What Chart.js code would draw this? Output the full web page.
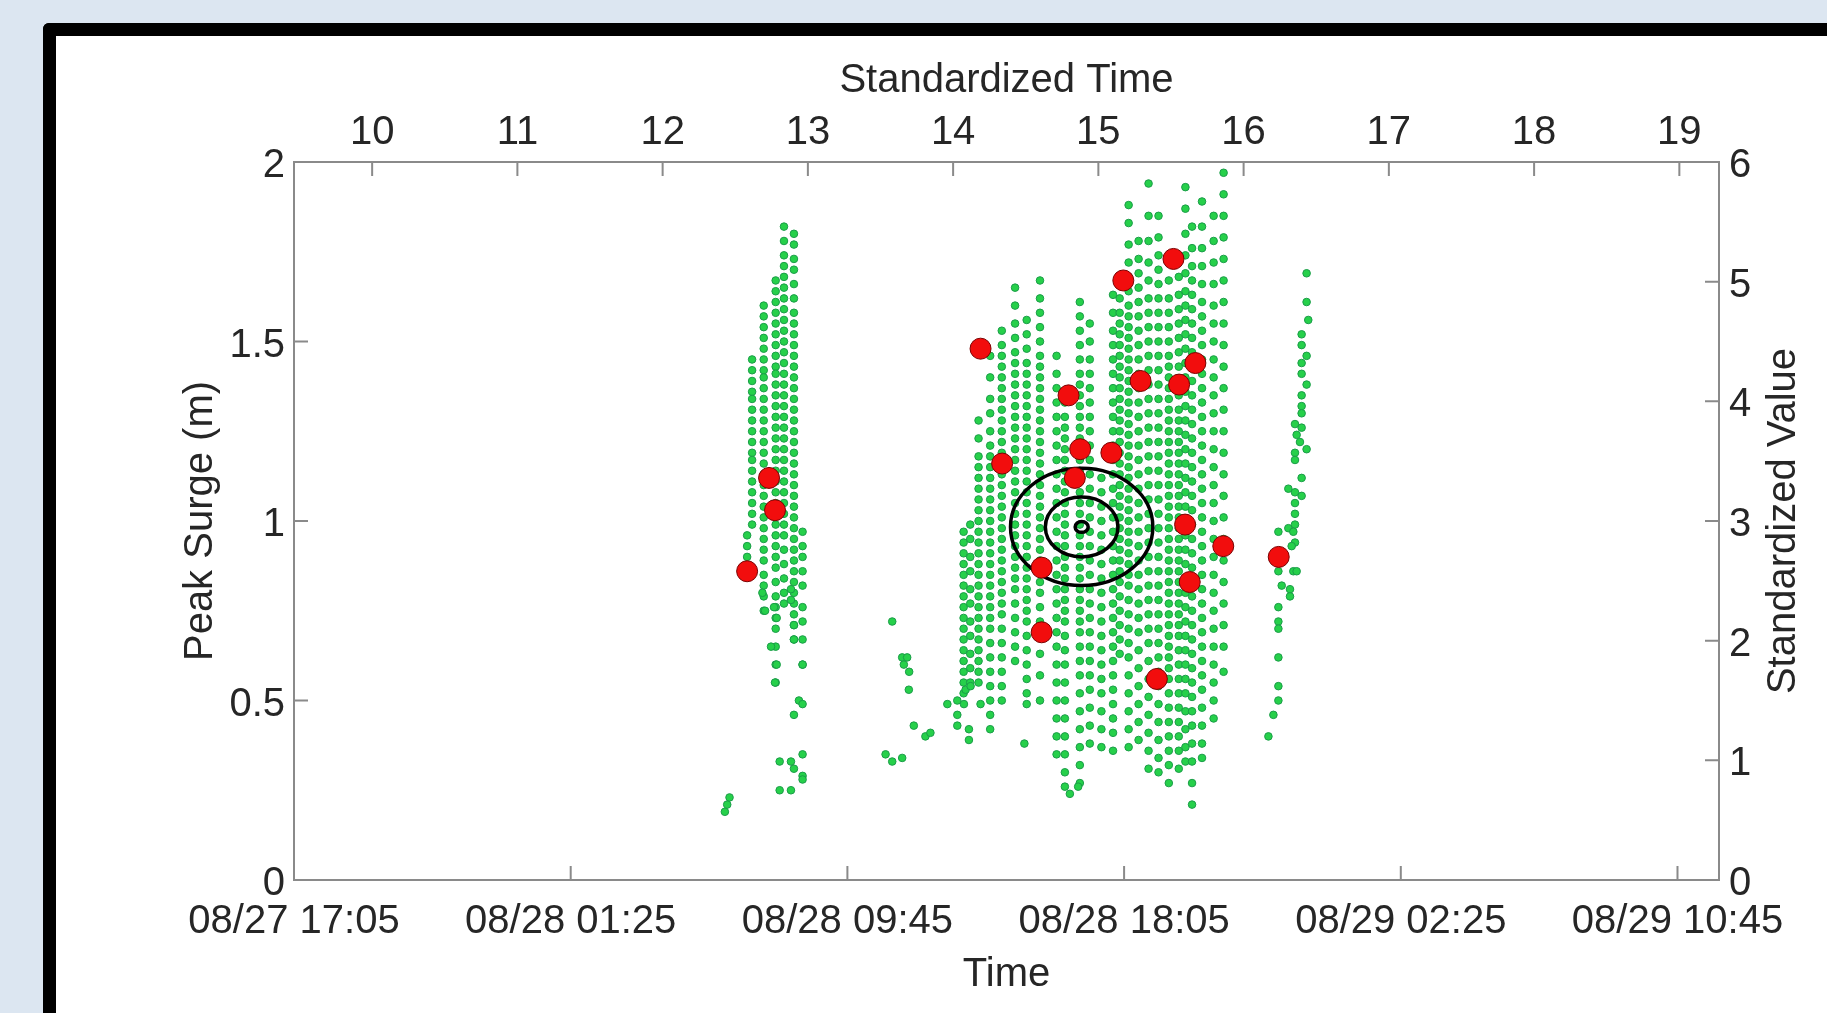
<!DOCTYPE html>
<html>
<head>
<meta charset="utf-8">
<title>Peak surge vs time</title>
<script src="https://cdn.jsdelivr.net/npm/chart.js@4.4.0/dist/chart.umd.min.js"></script>
<style>
  html, body { margin: 0; padding: 0; width: 1827px; height: 1013px; overflow: hidden; background: #dce6f1; }
  #frame { position: absolute; left: 43px; top: 23px; width: 1840px; height: 1050px; background: #fff;
           border-left: 13px solid #000; border-top: 13px solid #000; border-top-left-radius: 6px; }
  #chart { position: absolute; left: 0; top: 0; }
</style>
</head>
<body>
<div id="frame"></div>
<canvas id="chart" width="1827" height="1013"></canvas>
<script>
// x values are hours after 08/27 00:00, surges in metres

// bottom axis (Time)
const timeTickHours = [17.0833, 25.4167, 33.75, 42.0833, 50.4167, 58.75];
const timeTickLabels = ['08/27 17:05', '08/28 01:25', '08/28 09:45', '08/28 18:05', '08/29 02:25', '08/29 10:45'];
// top axis (Standardized Time)
const stdTimeTicks = [10, 11, 12, 13, 14, 15, 16, 17, 18, 19];
// left / right axes
const surgeTicks = [0, 0.5, 1, 1.5, 2];
const stdValueTicks = [0, 1, 2, 3, 4, 5, 6];

// ensemble members, grouped by output time: [hour, [surges]]
const leftColumns = [
  [30.73, [0.96, 0.93, 0.90, 0.87]],
  [30.88, [1.45, 1.42, 1.39, 1.36, 1.34, 1.31, 1.28, 1.25, 1.22, 1.19, 1.17, 1.14, 1.11, 1.08, 1.05, 1.02, 0.99]],
  [31.23, [1.60, 1.57, 1.54, 1.51, 1.48, 1.45, 1.42, 1.40, 1.37, 1.34, 1.31, 1.28, 1.25, 1.22, 1.19, 1.16, 1.13, 1.10, 1.07, 1.04, 1.01, 0.98, 0.95, 0.92, 0.89, 0.85, 0.82, 0.79, 0.75]],
  [31.59, [1.67, 1.64, 1.61, 1.58, 1.55, 1.52, 1.49, 1.46, 1.43, 1.41, 1.38, 1.35, 1.32, 1.29, 1.26, 1.23, 1.20, 1.17, 1.14, 1.11, 1.08, 1.05, 1.02, 0.99, 0.96, 0.93, 0.90, 0.87, 0.83, 0.79, 0.76, 0.73, 0.70, 0.65, 0.60, 0.55]],
  [31.84, [1.82, 1.78, 1.74, 1.71, 1.68, 1.65, 1.62, 1.59, 1.56, 1.53, 1.50, 1.47, 1.44, 1.41, 1.38, 1.35, 1.32, 1.29, 1.26, 1.23, 1.20, 1.17, 1.14, 1.11, 1.08, 1.05, 1.02, 0.99, 0.96, 0.92, 0.88, 0.84, 0.80, 0.77]],
  [32.14, [1.80, 1.77, 1.73, 1.70, 1.66, 1.62, 1.58, 1.55, 1.52, 1.49, 1.46, 1.43, 1.40, 1.37, 1.34, 1.31, 1.28, 1.25, 1.22, 1.19, 1.16, 1.13, 1.10, 1.07, 1.04, 1.01, 0.98, 0.95, 0.92, 0.89, 0.86, 0.83, 0.80, 0.77, 0.74, 0.71, 0.67]],
  [32.40, [0.97, 0.93, 0.90, 0.86, 0.82, 0.76, 0.72, 0.67, 0.60]]
];

const centerColumns = [
  [37.25, [0.97, 0.94, 0.91, 0.88, 0.85, 0.82, 0.79, 0.76, 0.73, 0.70, 0.67, 0.64, 0.61, 0.58, 0.55, 0.52]],
  [37.45, [0.99, 0.95, 0.90, 0.86, 0.81, 0.77, 0.72, 0.68, 0.63, 0.59, 0.55]],
  [37.70, [1.28, 1.23, 1.18, 1.15, 1.12, 1.09, 1.06, 1.03, 1.00, 0.97, 0.94, 0.91, 0.88, 0.85, 0.82, 0.79, 0.76, 0.73, 0.70, 0.67, 0.64, 0.61, 0.58, 0.55]],
  [38.05, [1.46, 1.40, 1.34, 1.30, 1.25, 1.21, 1.18, 1.15, 1.12, 1.09, 1.06, 1.03, 1.00, 0.97, 0.94, 0.91, 0.88, 0.85, 0.82, 0.79, 0.76, 0.73, 0.70, 0.66, 0.62, 0.58, 0.54, 0.50, 0.46, 0.42]],
  [38.40, [1.53, 1.49, 1.46, 1.43, 1.40, 1.37, 1.34, 1.31, 1.28, 1.25, 1.22, 1.19, 1.16, 1.13, 1.10, 1.07, 1.04, 1.01, 0.98, 0.95, 0.92, 0.89, 0.86, 0.83, 0.80, 0.77, 0.74, 0.70, 0.66, 0.62, 0.58, 0.54, 0.50]],
  [38.80, [1.65, 1.60, 1.55, 1.51, 1.47, 1.44, 1.41, 1.38, 1.35, 1.32, 1.29, 1.26, 1.23, 1.20, 1.17, 1.14, 1.11, 1.08, 1.05, 1.02, 0.99, 0.96, 0.93, 0.90, 0.87, 0.84, 0.81, 0.77, 0.73, 0.69, 0.65, 0.61]],
  [39.15, [1.56, 1.52, 1.48, 1.44, 1.41, 1.38, 1.35, 1.32, 1.29, 1.26, 1.23, 1.20, 1.17, 1.14, 1.11, 1.08, 1.05, 1.02, 0.99, 0.96, 0.93, 0.90, 0.87, 0.84, 0.81, 0.78, 0.75, 0.72, 0.68, 0.64, 0.60, 0.56, 0.52, 0.49]],
  [39.55, [1.67, 1.62, 1.58, 1.54, 1.50, 1.46, 1.43, 1.40, 1.37, 1.34, 1.31, 1.28, 1.25, 1.22, 1.19, 1.16, 1.13, 1.10, 1.07, 1.04, 1.01, 0.98, 0.95, 0.92, 0.89, 0.86, 0.83, 0.80, 0.76, 0.72, 0.69, 0.63, 0.57, 0.50]],
  [40.05, [1.46, 1.41, 1.37, 1.33, 1.29, 1.25, 1.21, 1.17, 1.13, 1.09, 1.05, 1.01, 0.97, 0.93, 0.89, 0.85, 0.81, 0.77, 0.73, 0.69, 0.65, 0.60, 0.55, 0.50, 0.45, 0.40, 0.35]],
  [40.30, [1.33, 1.29, 1.26, 1.23, 1.20, 1.17, 1.14, 1.11, 1.08, 1.05, 1.02, 0.99, 0.96, 0.93, 0.90, 0.87, 0.84, 0.81, 0.78, 0.75, 0.72, 0.68, 0.64, 0.60, 0.55, 0.50, 0.45, 0.40, 0.35, 0.30, 0.26]],
  [40.75, [1.61, 1.57, 1.53, 1.49, 1.45, 1.41, 1.38, 1.35, 1.32, 1.29, 1.26, 1.23, 1.20, 1.17, 1.14, 1.11, 1.08, 1.05, 1.02, 0.99, 0.96, 0.93, 0.90, 0.87, 0.84, 0.81, 0.78, 0.75, 0.72, 0.69, 0.65, 0.61, 0.57, 0.52, 0.47, 0.42, 0.37, 0.32, 0.27]],
  [41.05, [1.55, 1.50, 1.45, 1.41, 1.37, 1.33, 1.29, 1.25, 1.21, 1.17, 1.13, 1.09, 1.05, 1.01, 0.97, 0.93, 0.89, 0.85, 0.81, 0.77, 0.73, 0.69, 0.65, 0.61, 0.57, 0.53, 0.48, 0.43, 0.38]],
  [41.40, [1.12, 1.08, 1.04, 1.00, 0.96, 0.92, 0.88, 0.84, 0.80, 0.76, 0.72, 0.68, 0.64, 0.60, 0.56, 0.52, 0.47, 0.42, 0.37]],
  [41.75, [1.63, 1.58, 1.53, 1.49, 1.45, 1.41, 1.37, 1.33, 1.29, 1.25, 1.21, 1.17, 1.13, 1.09, 1.05, 1.01, 0.97, 0.93, 0.89, 0.85, 0.81, 0.77, 0.73, 0.69, 0.65, 0.61, 0.57, 0.53, 0.49, 0.45, 0.41, 0.36]],
  [41.95, [1.66, 1.62, 1.58, 1.55, 1.52, 1.49, 1.46, 1.43, 1.40, 1.37, 1.34, 1.31, 1.28, 1.25, 1.22, 1.19, 1.16, 1.13, 1.10, 1.07, 1.04, 1.01, 0.98, 0.95, 0.92, 0.89, 0.86, 0.83, 0.79, 0.75, 0.71, 0.67, 0.63]],
  [42.22, [1.88, 1.83, 1.77, 1.72, 1.68, 1.64, 1.60, 1.57, 1.54, 1.51, 1.48, 1.45, 1.42, 1.39, 1.36, 1.33, 1.30, 1.27, 1.24, 1.21, 1.18, 1.15, 1.12, 1.09, 1.06, 1.03, 1.00, 0.97, 0.94, 0.91, 0.88, 0.85, 0.82, 0.78, 0.74, 0.70, 0.66, 0.62, 0.57, 0.52, 0.47, 0.42, 0.37]],
  [42.52, [1.78, 1.73, 1.69, 1.65, 1.61, 1.57, 1.53, 1.49, 1.45, 1.41, 1.37, 1.33, 1.29, 1.25, 1.21, 1.17, 1.13, 1.09, 1.05, 1.01, 0.97, 0.93, 0.89, 0.85, 0.81, 0.77, 0.73, 0.69, 0.64, 0.59, 0.54, 0.49, 0.44, 0.39]],
  [42.82, [1.94, 1.85, 1.78, 1.72, 1.67, 1.62, 1.58, 1.54, 1.50, 1.46, 1.42, 1.38, 1.34, 1.30, 1.26, 1.22, 1.18, 1.14, 1.10, 1.06, 1.02, 0.98, 0.94, 0.90, 0.86, 0.82, 0.78, 0.74, 0.70, 0.66, 0.61, 0.56, 0.51, 0.46, 0.41, 0.36, 0.31]],
  [43.12, [1.85, 1.79, 1.74, 1.70, 1.66, 1.62, 1.58, 1.54, 1.50, 1.46, 1.42, 1.38, 1.34, 1.30, 1.26, 1.22, 1.18, 1.14, 1.10, 1.06, 1.02, 0.98, 0.94, 0.90, 0.86, 0.82, 0.78, 0.74, 0.70, 0.66, 0.62, 0.58, 0.54, 0.49, 0.44, 0.39, 0.34, 0.30]],
  [43.43, [1.72, 1.67, 1.62, 1.58, 1.54, 1.50, 1.46, 1.43, 1.40, 1.37, 1.34, 1.31, 1.28, 1.25, 1.22, 1.19, 1.16, 1.13, 1.10, 1.07, 1.04, 1.01, 0.98, 0.95, 0.92, 0.89, 0.86, 0.83, 0.80, 0.77, 0.74, 0.71, 0.68, 0.65, 0.62, 0.59, 0.56, 0.52, 0.48, 0.44, 0.40, 0.36, 0.32, 0.27]],
  [43.73, [1.68, 1.63, 1.59, 1.55, 1.51, 1.47, 1.43, 1.39, 1.35, 1.31, 1.28, 1.25, 1.22, 1.19, 1.16, 1.13, 1.10, 1.07, 1.04, 1.01, 0.98, 0.95, 0.92, 0.89, 0.86, 0.83, 0.80, 0.77, 0.74, 0.71, 0.68, 0.64, 0.60, 0.56, 0.52, 0.48, 0.44, 0.40, 0.36, 0.31]],
  [43.93, [1.93, 1.87, 1.80, 1.74, 1.69, 1.64, 1.60, 1.56, 1.52, 1.48, 1.44, 1.40, 1.36, 1.32, 1.28, 1.24, 1.20, 1.16, 1.12, 1.08, 1.04, 1.00, 0.96, 0.92, 0.88, 0.84, 0.80, 0.76, 0.72, 0.68, 0.64, 0.60, 0.56, 0.52, 0.47, 0.42, 0.37, 0.33]],
  [44.13, [1.82, 1.76, 1.71, 1.67, 1.63, 1.59, 1.55, 1.51, 1.47, 1.43, 1.39, 1.35, 1.31, 1.27, 1.23, 1.19, 1.15, 1.11, 1.07, 1.03, 0.99, 0.95, 0.91, 0.87, 0.83, 0.79, 0.75, 0.71, 0.67, 0.63, 0.59, 0.55, 0.51, 0.47, 0.43, 0.38, 0.33, 0.27, 0.21]],
  [44.43, [1.89, 1.82, 1.76, 1.71, 1.66, 1.61, 1.57, 1.53, 1.49, 1.45, 1.41, 1.37, 1.33, 1.29, 1.25, 1.21, 1.17, 1.13, 1.09, 1.05, 1.01, 0.97, 0.93, 0.89, 0.85, 0.81, 0.77, 0.73, 0.69, 0.65, 0.61, 0.57, 0.53, 0.48, 0.43, 0.38, 0.34]],
  [44.78, [1.85, 1.78, 1.72, 1.66, 1.60, 1.55, 1.50, 1.45, 1.40, 1.35, 1.30, 1.25, 1.20, 1.15, 1.10, 1.05, 1.00, 0.95, 0.90, 0.85, 0.80, 0.75, 0.70, 0.65, 0.60, 0.55, 0.50, 0.45]],
  [45.08, [1.97, 1.91, 1.85, 1.79, 1.73, 1.67, 1.61, 1.55, 1.49, 1.43, 1.37, 1.31, 1.25, 1.19, 1.13, 1.07, 1.01, 0.95, 0.89, 0.83, 0.77, 0.71, 0.65, 0.58]]
];

// loose members: [hour, surge]
const leftScatter = [
  [30.06, 0.19], [30.13, 0.21], [30.20, 0.23],
  [31.19, 0.80], [31.27, 0.75], [31.54, 0.76], [32.05, 0.81], [32.05, 0.78], [31.62, 0.73],
  [32.14, 0.71], [32.14, 0.67], [31.45, 0.65], [31.62, 0.60], [31.57, 0.55], [32.40, 0.60],
  [32.29, 0.50], [32.40, 0.49], [32.14, 0.46], [31.71, 0.33], [32.05, 0.33], [32.40, 0.35],
  [32.14, 0.31], [32.40, 0.29], [31.71, 0.25], [32.05, 0.25], [32.40, 0.28]
];
const midScatter = [
  [35.10, 0.72], [35.40, 0.62], [35.55, 0.62], [35.45, 0.60], [35.61, 0.58], [35.60, 0.53],
  [35.75, 0.43], [36.10, 0.40], [36.25, 0.41], [34.90, 0.35], [35.10, 0.33], [35.40, 0.34],
  [36.76, 0.49], [37.06, 0.50], [37.26, 0.49], [37.31, 0.53], [37.46, 0.54], [37.06, 0.46],
  [37.06, 0.43], [37.41, 0.42], [37.41, 0.39], [37.76, 0.49], [39.08, 0.38], [40.45, 0.24], [40.70, 0.26]
];
const rightColumn = [
  [47.58, 1.69], [47.58, 1.61], [47.63, 1.56], [47.43, 1.52], [47.43, 1.49], [47.58, 1.46],
  [47.43, 1.44], [47.43, 1.41], [47.58, 1.38], [47.43, 1.35], [47.43, 1.32], [47.43, 1.30],
  [47.23, 1.27], [47.43, 1.26], [47.28, 1.24], [47.38, 1.22], [47.23, 1.19], [47.58, 1.20],
  [47.23, 1.17], [47.43, 1.12], [47.03, 1.09], [47.23, 1.08], [47.43, 1.07], [47.23, 1.05],
  [47.23, 1.02], [47.23, 0.99], [47.03, 0.98], [46.73, 0.97], [47.18, 0.97], [47.23, 0.94],
  [47.13, 0.93], [47.18, 0.86], [47.28, 0.86], [46.73, 0.86], [46.83, 0.82], [47.08, 0.81],
  [47.08, 0.79], [46.73, 0.76], [46.73, 0.72], [46.73, 0.70], [46.73, 0.62], [46.73, 0.54],
  [46.73, 0.50], [46.58, 0.46], [46.43, 0.40]
];

// highlighted members (red)
const redPoints = [
  [30.73, 0.86], [31.39, 1.12], [31.57, 1.03], [37.76, 1.48], [38.41, 1.16], [39.60, 0.87],
  [39.60, 0.69], [40.41, 1.35], [40.60, 1.12], [40.76, 1.20], [41.70, 1.19], [42.06, 1.67],
  [42.58, 1.39], [43.07, 0.56], [43.57, 1.73], [43.74, 1.38], [43.92, 0.99], [44.06, 0.83],
  [44.23, 1.44], [45.07, 0.93], [46.74, 0.90]
];

// rings in standardized space (top/right axes)
const ringCenter = [14.885, 2.95];
const ringRadii = [0.045, 0.25, 0.49];

const textColor = '#262626';
const axisColor = '#8a8a8a';
const font = { family: "'Liberation Sans', Arial, Helvetica, sans-serif", size: 40 };

const greenData = [];
[...leftColumns, ...centerColumns].forEach(([h, list]) => list.forEach(s => greenData.push({ x: h, y: s })));
[...leftScatter, ...midScatter, ...rightColumn].forEach(([h, s]) => greenData.push({ x: h, y: s }));
const redData = redPoints.map(([h, s]) => ({ x: h, y: s }));

// rings go between the green cloud and the red markers
const ringsPlugin = {
  id: 'rings',
  afterDatasetDraw(chart, args) {
    if (args.index !== 1) return;
    const { ctx } = chart;
    const xs = chart.scales.x2, ys = chart.scales.y2;
    const cx = xs.getPixelForValue(ringCenter[0]);
    const cy = ys.getPixelForValue(ringCenter[1]);
    ctx.save();
    ctx.strokeStyle = '#000';
    ctx.lineWidth = 3.5;
    ringRadii.forEach(r => {
      const rx = xs.getPixelForValue(ringCenter[0] + r) - cx;
      const ry = cy - ys.getPixelForValue(ringCenter[1] + r);
      ctx.beginPath();
      ctx.ellipse(cx, cy, rx, ry, 0, 0, Math.PI * 2);
      ctx.stroke();
    });
    ctx.restore();
  }
};

// inward tick marks, and the right title that reads bottom-to-top
const axesPlugin = {
  id: 'axesExtras',
  afterDraw(chart) {
    const { ctx, chartArea: a, scales } = chart;
    const len = 14;
    ctx.save();
    ctx.strokeStyle = axisColor;
    ctx.lineWidth = 2;
    ctx.beginPath();
    scales.x.ticks.forEach(t => { const p = scales.x.getPixelForValue(t.value); ctx.moveTo(p, a.bottom); ctx.lineTo(p, a.bottom - len); });
    scales.x2.ticks.forEach(t => { const p = scales.x2.getPixelForValue(t.value); ctx.moveTo(p, a.top); ctx.lineTo(p, a.top + len); });
    scales.y.ticks.forEach(t => { const p = scales.y.getPixelForValue(t.value); ctx.moveTo(a.left, p); ctx.lineTo(a.left + len, p); });
    scales.y2.ticks.forEach(t => { const p = scales.y2.getPixelForValue(t.value); ctx.moveTo(a.right, p); ctx.lineTo(a.right - len, p); });
    ctx.stroke();

    ctx.translate(scales.y2.right - 43, (a.top + a.bottom) / 2);
    ctx.rotate(-Math.PI / 2);
    ctx.font = `${font.size}px ${font.family}`;
    ctx.fillStyle = textColor;
    ctx.textAlign = 'center';
    ctx.textBaseline = 'middle';
    ctx.fillText('Standardized Value', 0, 0);
    ctx.restore();
  }
};

function axis(extra) {
  return Object.assign({
    type: 'linear',
    grid: { display: false, drawTicks: false },
    border: { display: true, color: axisColor, width: 2 },
    title: { display: true, color: textColor, font: font }
  }, extra);
}

const ctx = document.getElementById('chart').getContext('2d');
new Chart(ctx, {
  type: 'scatter',
  data: {
    datasets: [
      {
        label: 'Selected',
        data: redData,
        xAxisID: 'x', yAxisID: 'y',
        pointRadius: 10.5,
        pointBackgroundColor: '#f20d0d',
        pointBorderColor: '#7a0000',
        pointBorderWidth: 1
      },
      {
        label: 'Ensemble',
        data: greenData,
        xAxisID: 'x', yAxisID: 'y',
        pointRadius: 3.8,
        pointBackgroundColor: '#26d04a',
        pointBorderColor: '#1a9c48',
        pointBorderWidth: 1
      }
    ]
  },
  options: {
    responsive: false,
    animation: false,
    devicePixelRatio: 1,
    layout: { padding: 0 },
    events: [],
    plugins: { legend: { display: false }, tooltip: { enabled: false } },
    scales: {
      x: axis({
        position: 'bottom', min: 17.0833, max: 60,
        afterBuildTicks: s => { s.ticks = timeTickHours.map(v => ({ value: v })); },
        afterFit: s => { s.height = 133; },
        ticks: { color: textColor, font: font, autoSkip: false, maxRotation: 0, padding: 18,
                 callback: (v, i) => timeTickLabels[i] },
        title: { display: true, text: 'Time', color: textColor, font: font, padding: { top: 0, bottom: 14 } }
      }),
      x2: axis({
        position: 'top', min: 9.462, max: 19.273,
        afterBuildTicks: s => { s.ticks = stdTimeTicks.map(v => ({ value: v })); },
        afterFit: s => { s.height = 162; },
        ticks: { color: textColor, font: font, autoSkip: false, maxRotation: 0, padding: 5,
                 callback: v => String(v) },
        title: { display: true, text: 'Standardized Time', color: textColor, font: font, padding: { top: 57, bottom: 0 } }
      }),
      y: axis({
        position: 'left', min: 0, max: 2,
        afterBuildTicks: s => { s.ticks = surgeTicks.map(v => ({ value: v })); },
        afterFit: s => { s.width = 294; },
        ticks: { color: textColor, font: font, autoSkip: false, padding: 9, labelOffset: 4, callback: v => String(v) },
        title: { display: true, text: 'Peak Surge (m)', color: textColor, font: font, padding: { top: 177, bottom: 0 } }
      }),
      y2: axis({
        position: 'right', min: 0, max: 6,
        afterBuildTicks: s => { s.ticks = stdValueTicks.map(v => ({ value: v })); },
        afterFit: s => { s.width = 108; },
        ticks: { color: textColor, font: font, autoSkip: false, padding: 10, labelOffset: 4, callback: v => String(v) },
        title: { display: false }
      })
    }
  },
  plugins: [ringsPlugin, axesPlugin]
});
</script>
</body>
</html>
